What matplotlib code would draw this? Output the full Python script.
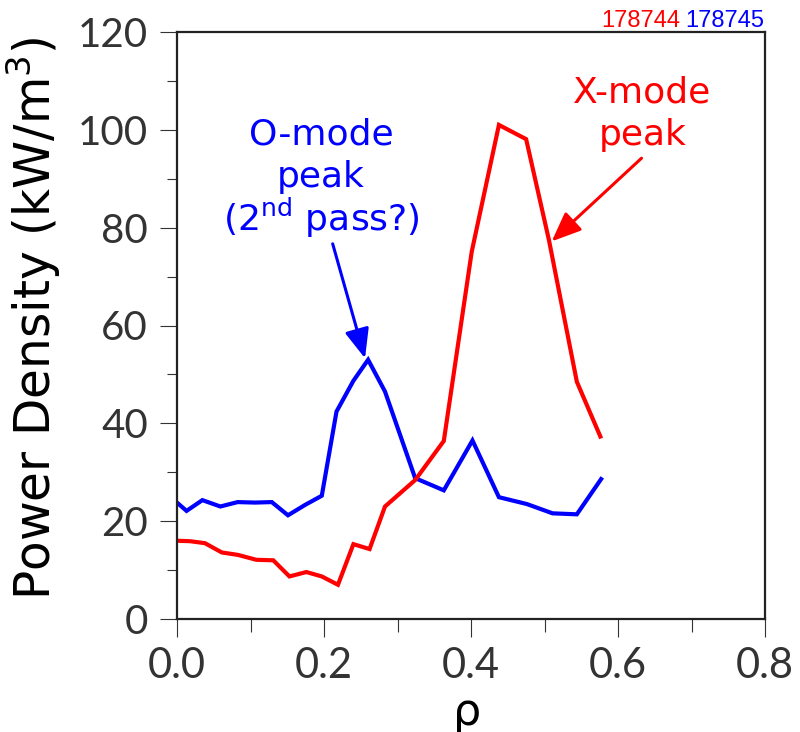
import numpy as np
import matplotlib
matplotlib.use("Agg")
import matplotlib.pyplot as plt
from matplotlib.ticker import MultipleLocator

# shot 178745 (blue) and 178744 (red), power density vs rho
rho_blue = [0.0, 0.013, 0.0345, 0.059, 0.0825, 0.106, 0.129, 0.151, 0.174, 0.197, 0.217,
            0.240, 0.260, 0.283, 0.324, 0.363, 0.402, 0.438, 0.476, 0.511, 0.544, 0.577]
pd_blue = [23.8, 22.1, 24.3, 23.0, 23.9, 23.8, 23.9, 21.2, 23.3, 25.2, 42.4,
           48.7, 53.0, 46.5, 28.8, 26.3, 36.5, 24.9, 23.5, 21.6, 21.4, 28.6]

rho_red = [0.0, 0.018, 0.038, 0.061, 0.083, 0.108, 0.131, 0.153, 0.176, 0.197, 0.219,
           0.240, 0.262, 0.283, 0.324, 0.363, 0.401, 0.438, 0.475, 0.506, 0.544, 0.576]
pd_red = [16.0, 15.9, 15.5, 13.6, 13.1, 12.1, 12.0, 8.7, 9.6, 8.7, 7.0,
          15.3, 14.3, 23.0, 28.4, 36.4, 75.1, 101.0, 98.1, 77.5, 48.5, 37.3]

shots = ["178744", "178745"]
x_ticks = [0.0, 0.2, 0.4, 0.6, 0.8]
y_ticks = [0, 20, 40, 60, 80, 100, 120]

fig = plt.figure(figsize=(8, 7.32), dpi=100)
ax = fig.add_axes([177 / 800, 1 - 619 / 732, 588 / 800, 587 / 732])

ax.plot(rho_blue, pd_blue, color="#0000ff", lw=3.0, solid_joinstyle="miter")
ax.plot(rho_red, pd_red, color="#ff0000", lw=3.0, solid_joinstyle="miter")

ax.set_xlim(0, 0.8)
ax.set_ylim(0, 120)
ax.set_xticks(x_ticks)
ax.set_xticklabels(["%.1f" % t for t in x_ticks])
ax.set_yticks(y_ticks)
ax.xaxis.set_minor_locator(MultipleLocator(0.1))
ax.yaxis.set_minor_locator(MultipleLocator(10))

for s in ax.spines.values():
    s.set_color("#222222")
    s.set_linewidth(1.6)

ax.tick_params(axis="y", which="major", length=12, width=0.8, color="#333333",
               labelsize=29, labelcolor="#333333", pad=9)
ax.tick_params(axis="y", which="minor", length=7, width=0.8, color="#333333")
ax.tick_params(axis="x", which="major", length=13, width=0.8, color="#333333",
               labelsize=30, labelcolor="#333333", pad=7)
ax.tick_params(axis="x", which="minor", length=9, width=0.8, color="#333333")
for lab in ax.get_xticklabels() + ax.get_yticklabels():
    lab.set_family("Lato")
    lab.set_fontweight("normal")

fig.text(34 / 800, 1 - 318 / 732, "Power Density (kW/m$^3$)", rotation=90,
         ha="center", va="center", fontsize=35, color="black")
fig.text(467 / 800, 1 - 712 / 732, "\u03c1", ha="center", va="center",
         fontsize=32, color="black")

# shot numbers top right
fig.text(680 / 800, 1 - 27 / 732, shots[0], color="#ff0000", ha="right",
         va="baseline", fontsize=17, family="Liberation Sans")
fig.text(764 / 800, 1 - 27 / 732, shots[1], color="#0000ff", ha="right",
         va="baseline", fontsize=17, family="Liberation Sans")

# annotations
for txt, y in [("O-mode", 99.0), ("peak", 90.4), ("(2$^{\\mathrm{nd}}$ pass?)", 82.0)]:
    ax.text(0.196, y, txt, color="#0000ff", ha="center", va="center", fontsize=26)
for txt, y in [("X-mode", 107.6), ("peak", 99.0)]:
    ax.text(0.633, y, txt, color="#ff0000", ha="center", va="center", fontsize=26)

astyle = "-|>,head_length=0.6,head_width=0.25"
ax.annotate("", xy=(0.2558, 53.3), xytext=(0.2118, 76.7),
            arrowprops=dict(arrowstyle=astyle, color="#0000ff", lw=2.2,
                            mutation_scale=30, shrinkA=0, shrinkB=0))
ax.annotate("", xy=(0.5098, 77.2), xytext=(0.632, 94.2),
            arrowprops=dict(arrowstyle=astyle, color="#ff0000", lw=2.2,
                            mutation_scale=30, shrinkA=0, shrinkB=0))

fig.savefig("out.png", dpi=100)
